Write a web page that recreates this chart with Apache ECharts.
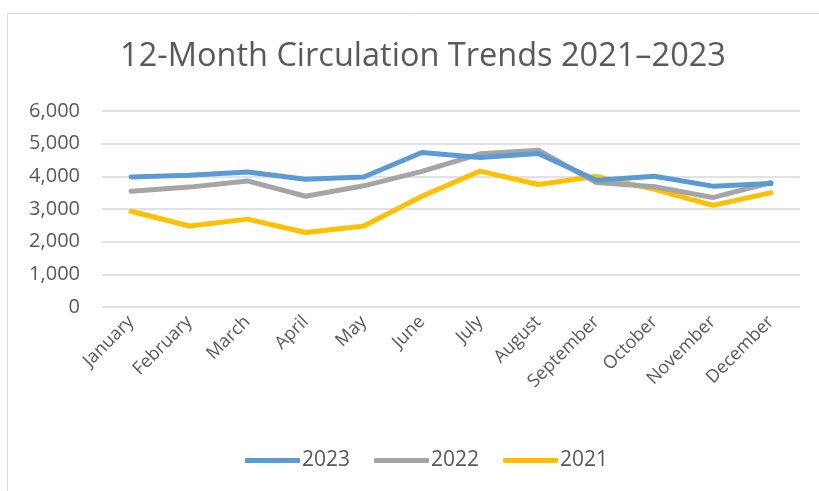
<!DOCTYPE html>
<html><head><meta charset="utf-8">
<script src="https://cdn.jsdelivr.net/npm/echarts@6/dist/echarts.min.js"></script>
<style>html,body{margin:0;padding:0;background:#fff}#c{width:819px;height:491px}</style>
</head><body><div id="c"></div>
<script>
const months = ['January','February','March','April','May','June','July','August','September','October','November','December'];
const y2023 = [3980, 4030, 4130, 3910, 3980, 4730, 4580, 4700, 3880, 4000, 3700, 3780];
const y2022 = [3540, 3670, 3860, 3390, 3710, 4150, 4690, 4800, 3810, 3680, 3350, 3810];
const y2021 = [2930, 2480, 2690, 2280, 2480, 3390, 4160, 3750, 4000, 3600, 3110, 3500];
const seriesNames = ['2023','2022','2021'];
const colors = ['#5B9BD5','#A5A5A5','#FFC000'];
const yTicks = {min:0, max:6000, interval:1000};
const FONT = "'Open Sans', sans-serif";
const chart = echarts.init(document.getElementById('c'), null, {renderer:'canvas'});
const data = [y2023, y2022, y2021];
chart.setOption({
  animation:false,
  backgroundColor:'#fff',
  graphic:[{type:'rect', left:5, top:11, shape:{width:900, height:700}, style:{fill:'none', stroke:'#D9D9D9', lineWidth:1}, z:-1}],
  title:{text:'12-Month Circulation Trends 2021–2023', left:418, textAlign:'center', top:35,
    textStyle:{fontFamily:FONT, fontSize:32.5, fontWeight:'normal', color:'#595959'}},
  grid:{left:102, right:19, top:111, bottom:184, containLabel:false},
  legend:{bottom:15, left:240, itemWidth:55, itemHeight:5, itemGap:24, icon:'roundRect',
    textStyle:{fontFamily:FONT, fontSize:21, color:'#595959', padding:[0,0,0,-3]}, data:seriesNames},
  xAxis:{type:'category', data:months, boundaryGap:true,
    axisLine:{show:false}, axisTick:{show:false},
    axisLabel:{rotate:45, margin:12, fontFamily:FONT, fontSize:18, color:'#595959', interval:0}},
  yAxis:{type:'value', min:yTicks.min, max:yTicks.max, interval:yTicks.interval,
    axisLine:{show:false}, axisTick:{show:false},
    splitLine:{lineStyle:{color:'#D9D9D9', width:1.5}},
    axisLabel:{margin:22, fontFamily:FONT, fontSize:20, color:'#595959',
      formatter:v=>v.toLocaleString('en-US')}},
  series: seriesNames.map((n,i)=>({name:n, type:'line', data:data[i], symbol:'none', showSymbol:false,
    lineStyle:{color:colors[i], width:5, cap:'round', join:'round'}, itemStyle:{color:colors[i]}, z:10-i}))
});
</script></body></html>
